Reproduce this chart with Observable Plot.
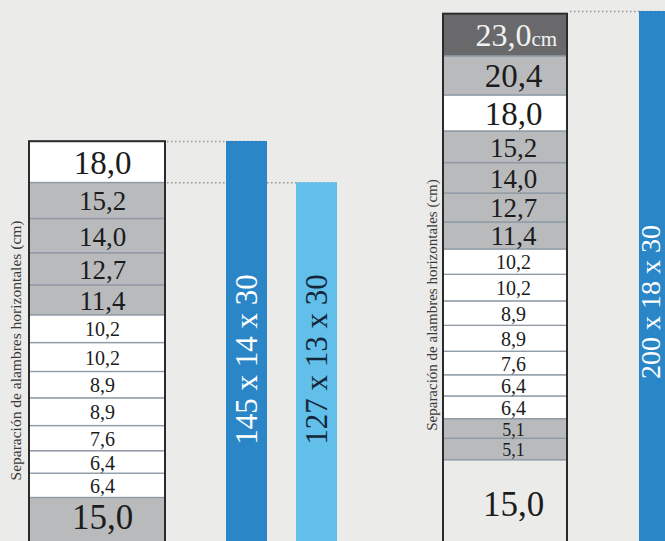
<!DOCTYPE html>
<html><head><meta charset="utf-8">
<script src="https://cdn.jsdelivr.net/npm/d3@7"></script>
<script src="https://cdn.jsdelivr.net/npm/@observablehq/plot@0.6"></script>
<style>
html,body{margin:0;padding:0;background:#ebebe9;overflow:hidden}
#chart{position:relative;width:665px;height:541px;overflow:hidden;background:#ebebe9}
#chart svg{position:absolute;top:0;overflow:hidden;background:transparent}
#chart svg, #chart svg text{font-family:"Liberation Serif","Times New Roman",serif !important}
</style></head><body><div id="chart"></div>
<script>
// ---- data ----
const axisTitle = "Separación de alambres horizontales (cm)";
const unit = "cm";
// wire spacings, listed top to bottom as drawn
const leftValues  = [18.0, 15.2, 14.0, 12.7, 11.4, 10.2, 10.2, 8.9, 8.9, 7.6, 6.4, 6.4, 15.0];
const leftTones   = ["blanco","gris","gris","gris","gris","blanco","blanco","blanco","blanco","blanco","blanco","blanco","gris"];
const leftBars    = ["145 x 14 x 30", "127 x 13 x 30"];
const leftHeights = [145, 127];
const leftBarTones = ["azul", "celeste"];

const rightValues  = [23.0, 20.4, 18.0, 15.2, 14.0, 12.7, 11.4, 10.2, 10.2, 8.9, 8.9, 7.6, 6.4, 6.4, 5.1, 5.1, 15.0];
const rightTones   = ["oscuro","gris","blanco","gris","gris","gris","gris","blanco","blanco","blanco","blanco","blanco","blanco","blanco","gris","gris","suelo"];
const rightBars    = ["200 x 18 x 30"];
const rightHeights = [200];
const rightBarTones = ["azul"];

// ---- styling ----
const FONT = "'Liberation Serif','Times New Roman',serif";
const toneDomain = ["blanco","gris","oscuro","suelo"];
const toneRange  = ["#ffffff","#b9babc","#69696b","#ebebe9"];
const barToneDomain = ["azul","celeste"];
const barToneRange  = ["#2a86c7","#62bfea"];
const H = 541;
const label = v => v.toFixed(1).replace(".", ",");
const fsize = d => d.v >= 18 ? 33 : d.v >= 11 ? 27 : d.v >= 6 ? 20 : 18;

function column(values, tones, o) {
  const col = "alambres";
  const rows = values.map((v, i) => ({col, v, tone: tones[i], top: i === 0, ground: i === values.length - 1})).reverse();
  const total = d3.sum(values);
  const svg = Plot.plot({
    width: o.width, height: H,
    marginLeft: o.marginLeft, marginRight: 1, marginTop: o.marginTop, marginBottom: o.marginBottom,
    style: {fontFamily: FONT, background: "transparent", overflow: "hidden"},
    x: {type: "band", domain: [col], padding: 0, axis: null},
    y: {type: "pow", exponent: o.exp, domain: [0, o.maxY], axis: null},
    color: {domain: toneDomain, range: toneRange},
    marks: [
      Plot.barY(rows, Plot.stackY({x: "col", y: "v", fill: "tone", stroke: "#8e9aa6", strokeWidth: 1.3})),
      Plot.barY([{col, total}], {x: "col", y: "total", fill: "none", stroke: "#2b2b2b", strokeWidth: 2}),
      Plot.text(rows, Plot.stackY({x: "col", y: "v", text: d => (d.top && o.topDark) || d.ground ? null : label(d.v),
        fontSize: fsize, fill: "#1c1c1c", dx: o.dx, dy: 1})),
      ...(o.topDark ? [
        Plot.text(rows, Plot.stackY({x: "col", y: "v", text: d => d.top ? label(d.v) : null,
          fontSize: 32, fill: "#f2f2f2", dx: -2, dy: 1})),
        Plot.text(rows, Plot.stackY({x: "col", y: "v", text: d => d.top ? unit : null,
          fontSize: 21, fill: "#f2f2f2", textAnchor: "start", dx: 26, dy: 4.5}))
      ] : []),
      Plot.text(rows.filter(d => d.ground), {x: "col", y: "v", text: d => label(d.v),
        lineAnchor: "top", fontSize: 35, fill: "#1c1c1c", dy: o.groundDy, dx: o.dx}),
      Plot.text([axisTitle], {frameAnchor: "left", textAnchor: "middle", text: d => d, rotate: -90, fontSize: o.titleSize,
        fill: "#3a3a3a", dx: o.titleDx, dy: o.titleDy})
    ]
  });
  svg.style.left = o.left + "px";
  return svg;
}

function bars(names, heights, tones, o) {
  const first = names[0];
  const rows = names.map((name, i) => ({name, first, h: heights[i], tone: tones[i]}));
  const svg = Plot.plot({
    width: o.width, height: H,
    marginLeft: 0, marginRight: 0, marginTop: o.marginTop, marginBottom: o.marginBottom,
    style: {fontFamily: FONT, background: "transparent", overflow: "hidden"},
    x: {type: "band", domain: names, paddingInner: o.paddingInner, paddingOuter: o.paddingOuter, axis: null},
    y: {type: "pow", exponent: o.exp, domain: [0, o.maxY], axis: null},
    color: {domain: barToneDomain, range: barToneRange},
    marks: [
      Plot.ruleY(rows, {y: "h", x1: "first", x2: "name", insetLeft: o.ruleInset,
        stroke: "#9a9393", strokeWidth: 1.5, strokeDasharray: "1.5 2.5"}),
      Plot.barY(rows, {x: "name", y: "h", fill: "tone"}),
      Plot.text(rows, {filter: d => d.tone === "azul", x: "name", text: "name", rotate: -90,
        frameAnchor: "middle", fontSize: o.fontSize, fill: "#ffffff", dy: o.textDy, dx: o.textDx}),
      Plot.text(rows, {filter: d => d.tone !== "azul", x: "name", text: "name", rotate: -90,
        frameAnchor: "middle", fontSize: o.fontSize, fill: "#14263a", dy: o.textDy, dx: o.textDx})
    ]
  });
  svg.style.left = o.left + "px";
  return svg;
}

const chart = document.getElementById("chart");
// left panel
chart.append(column(leftValues, leftTones, {left: 0, width: 166, marginLeft: 29, marginTop: 141, marginBottom: -36, exp: 0.75,
  maxY: d3.max(leftHeights), dx: 5, groundDy: 6, titleDx: -13, titleDy: -9, titleSize: 15.5, topDark: false}));
chart.append(bars(leftBars, leftHeights, leftBarTones, {left: 166, width: 231, marginTop: 141, marginBottom: -36, exp: 0.75,
  maxY: d3.max(leftHeights), paddingInner: 0.408, paddingOuter: 0.831, ruleInset: -59, textDy: 0, textDx: 0, fontSize: 31}));
// right panel
chart.append(column(rightValues, rightTones, {left: 400, width: 168, marginLeft: 43, marginTop: 11, marginBottom: -21, exp: 0.65,
  maxY: d3.max(rightHeights), dx: 8, groundDy: 31, titleDx: -11, titleDy: 18, titleSize: 15, topDark: true}));
chart.append(bars(rightBars, rightHeights, rightBarTones, {left: 568, width: 182, marginTop: 11, marginBottom: -21, exp: 0.65,
  maxY: d3.max(rightHeights), paddingInner: 0, paddingOuter: 1.667, ruleInset: -70, textDy: 15, textDx: -9, fontSize: 28}));
</script></body></html>
